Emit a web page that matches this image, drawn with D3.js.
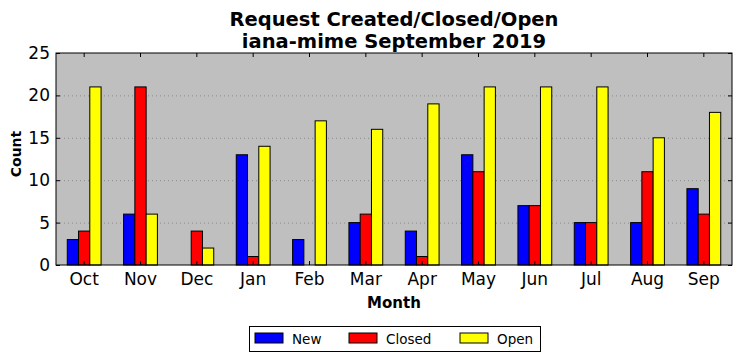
<!DOCTYPE html>
<html><head><meta charset="utf-8">
<script src="https://cdn.jsdelivr.net/npm/d3@7"></script>
<style>body{margin:0;background:#fff;} svg{display:block;font-family:"DejaVu Sans",sans-serif;}</style>
</head><body>
<script>
const months = ["Oct","Nov","Dec","Jan","Feb","Mar","Apr","May","Jun","Jul","Aug","Sep"];
const seriesNames = ["New","Closed","Open"];
const newVals = [3,6,0,13,3,5,4,13,7,5,5,9];
const closedVals = [4,21,4,1,0,6,1,11,7,5,11,6];
const openVals = [21,6,2,14,17,16,19,21,21,21,15,18];
const yTicks = [0,5,10,15,20,25];
const colors = ["#0000ff","#ff0000","#ffff00"];
const seriesVals = [newVals, closedVals, openVals];

const W = 742, H = 361;
const m = {left:56, right:10, top:53, bottom:96};
const pw = W - m.left - m.right, ph = H - m.top - m.bottom;

const svg = d3.select("body").append("svg").attr("width",W).attr("height",H);
const g = svg.append("g").attr("transform",`translate(${m.left},${m.top})`);

const x = d3.scaleBand().domain(months).range([0,pw]).paddingInner(0).paddingOuter(0);
const y = d3.scaleLinear().domain([0,25]).range([ph,0]);
const bw = x.bandwidth()*0.2;

g.append("rect").attr("width",pw).attr("height",ph).attr("fill","#bfbfbf");

// grid
g.selectAll(".grid").data(yTicks.filter(t=>t>0&&t<25)).enter().append("line")
  .attr("x1",0).attr("x2",pw).attr("y1",d=>y(d)+0.5).attr("y2",d=>y(d)+0.5)
  .attr("stroke","#8a8a8a").attr("stroke-width",1).attr("stroke-dasharray","1,3");

// bars
seriesVals.forEach((vals,si)=>{
  g.selectAll(".b"+si).data(months).enter().append("rect")
    .attr("x",(d)=>x(d)+x.bandwidth()/2 - 1.5*bw + si*bw)
    .attr("y",(d,i)=>y(vals[i]))
    .attr("width",bw)
    .attr("height",(d,i)=>y(0)-y(vals[i]))
    .attr("fill",colors[si]).attr("stroke","#000").attr("stroke-width",1);
});

// axes with inward ticks
const xb = d3.axisBottom(x).tickSize(-4).tickPadding(8);
const xt = d3.axisTop(x).tickSize(-4).tickFormat("");
const yl = d3.axisLeft(y).tickValues(yTicks).tickSize(-4).tickPadding(6);
const yr = d3.axisRight(y).tickValues(yTicks).tickSize(-4).tickFormat("");
function style(sel){ sel.attr("font-size",null).attr("font-family",null); sel.select(".domain").remove(); sel.selectAll("line").attr("stroke","#000"); sel.selectAll("text").style("font-size","17px").attr("fill","#000").style("font-family","DejaVu Sans, sans-serif"); }
g.append("g").attr("transform",`translate(0,${ph})`).call(xb).call(style);
g.append("g").call(xt).call(style);
g.append("g").call(yl).call(style);
g.append("g").attr("transform",`translate(${pw},0)`).call(yr).call(style);

g.append("rect").attr("width",pw).attr("height",ph).attr("fill","none").attr("stroke","#000").attr("stroke-width",1);

// titles
svg.append("text").attr("x",m.left+pw/2).attr("y",26).attr("text-anchor","middle")
  .style("font-size","19.5px").attr("font-weight","bold").text("Request Created/Closed/Open");
svg.append("text").attr("x",m.left+pw/2).attr("y",48).attr("text-anchor","middle")
  .style("font-size","19.5px").attr("font-weight","bold").text("iana-mime September 2019");
svg.append("text").attr("x",m.left+pw/2).attr("y",308).attr("text-anchor","middle")
  .style("font-size","15px").attr("font-weight","bold").text("Month");
svg.append("text").attr("transform",`translate(21,154) rotate(-90)`).attr("text-anchor","middle")
  .style("font-size","14px").attr("font-weight","bold").text("Count");

// legend
const lg = svg.append("g");
lg.append("rect").attr("x",249.5).attr("y",326.5).attr("width",291).attr("height",25).attr("fill","#fff").attr("stroke","#000");
const lx = [255,349,460];
seriesNames.forEach((n,i)=>{
  lg.append("rect").attr("x",lx[i]).attr("y",333).attr("width",28).attr("height",10)
    .attr("fill",colors[i]).attr("stroke","#000");
  lg.append("text").attr("x",lx[i]+37).attr("y",343.5).style("font-size","13.5px").text(n);
});
</script>
</body></html>
